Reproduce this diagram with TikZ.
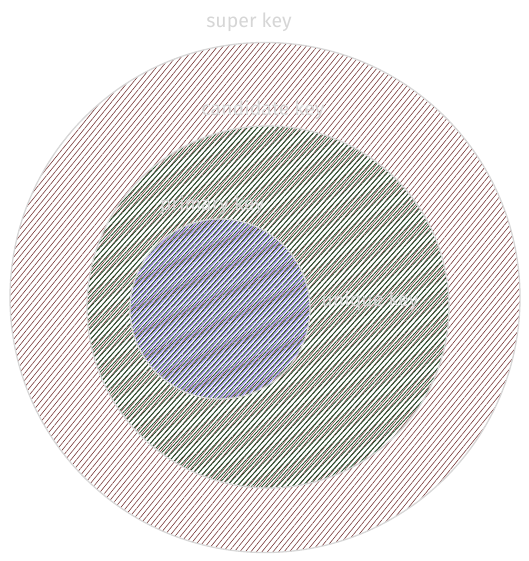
\documentclass[tikz,border=0pt]{standalone}
\usepackage{fontspec}
\setmainfont{Fira Sans}
\usetikzlibrary{patterns.meta}
\definecolor{hatchred}{RGB}{120,58,58}
\definecolor{hatchgreen}{RGB}{30,75,40}
\definecolor{hatchpurple}{RGB}{160,145,245}
\definecolor{ringgray}{RGB}{215,215,215}
\definecolor{labelgray}{RGB}{214,214,214}
\tikzset{
  ring/.style={draw=ringgray, line width=1.3pt},
  hatchR/.style={pattern={Lines[angle=51,distance=4.3pt,line width=0.6pt]}, pattern color=hatchred},
  hatchG/.style={pattern={Lines[angle=47,distance=3.7pt,line width=0.85pt]}, pattern color=hatchgreen},
  hatchP/.style={pattern={Lines[angle=47,distance=3.7pt,xshift=1.85pt,line width=1pt]}, pattern color=hatchpurple},
  lbl/.style={text=labelgray, font=\fontsize{19.5}{22}\selectfont, inner sep=0pt},
}
\begin{document}
\begin{tikzpicture}[x=1pt,y=-1pt]
\useasboundingbox (0,0) rectangle (528,561);
\path[hatchR] (265,297.5) circle[radius=255];
\path[hatchG] (268,307) circle[radius=181];
\path[hatchP] (220,309) circle[radius=90];
\node[ring, circle, minimum size=510pt, inner sep=0pt] (super) at (265,297.5) {};
\node[ring, circle, minimum size=362pt, inner sep=0pt] (cand) at (268,307) {};
\node[ring, circle, minimum size=180pt, inner sep=0pt] (prim) at (220,309) {};
\node[lbl] (tsuper) at (249,22) {super key};
\node[lbl] (tcand) at (263,110) {candidate key};
\node[lbl] (tprim) at (212,205) {primary key};
\node[lbl] (tuniq) at (370,301) {unique key};
\end{tikzpicture}
\end{document}
